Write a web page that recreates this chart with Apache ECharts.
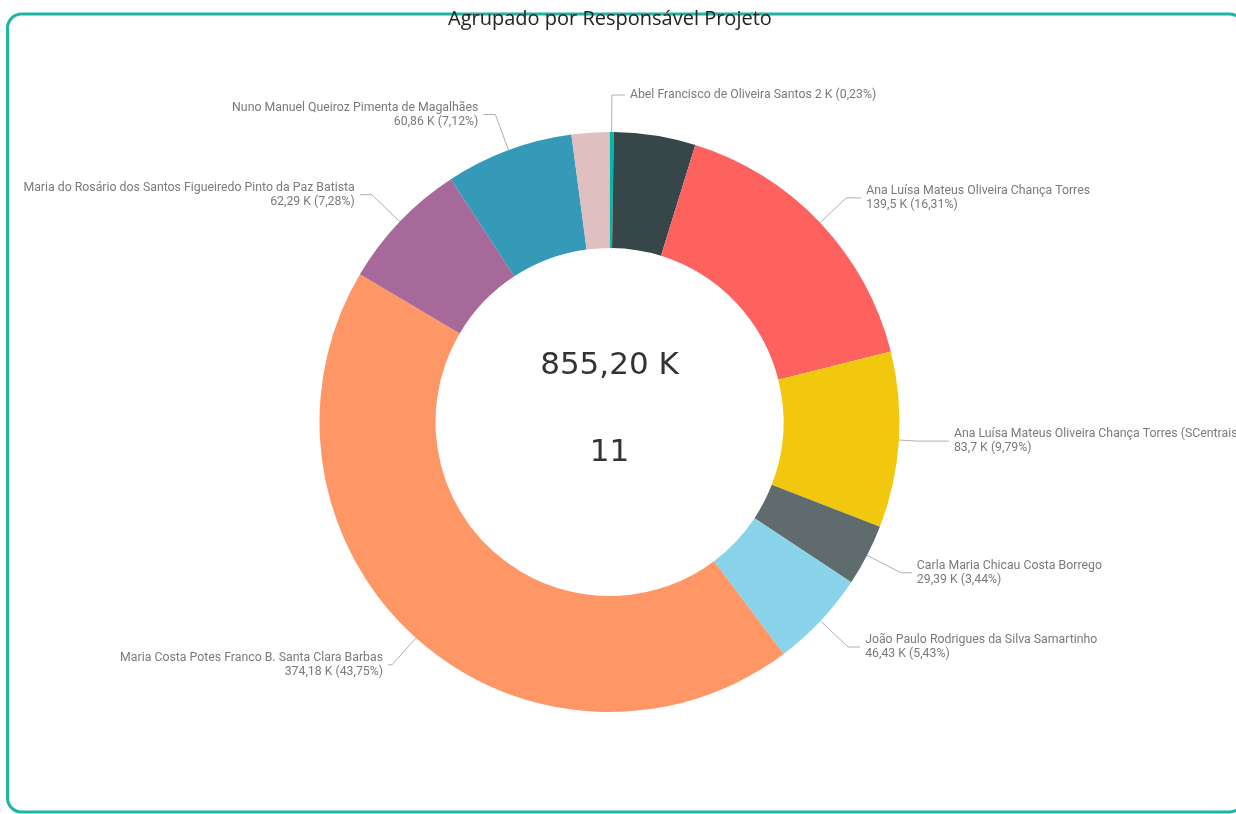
<!DOCTYPE html>
<html>
<head>
<meta charset="utf-8">
<script src="https://cdn.jsdelivr.net/npm/echarts@6/dist/echarts.min.js"></script>
<style>
html,body{margin:0;padding:0;background:#fff;}
#chart{width:1236px;height:814px;}
</style>
</head>
<body>
<div id="chart"></div>
<script>
// ---- data ----
const chartTitle = 'Agrupado por Responsável Projeto';
const categories = [
  'Abel Francisco de Oliveira Santos',
  '',
  'Ana Luísa Mateus Oliveira Chança Torres',
  'Ana Luísa Mateus Oliveira Chança Torres (SCentrais)',
  'Carla Maria Chicau Costa Borrego',
  'João Paulo Rodrigues da Silva Samartinho',
  'Maria Costa Potes Franco B. Santa Clara Barbas',
  'Maria do Rosário dos Santos Figueiredo Pinto da Paz Batista',
  'Nuno Manuel Queiroz Pimenta de Magalhães',
  ''
];
const valuesK = [2, 38.9, 139.5, 83.7, 29.39, 46.43, 374.18, 62.29, 60.86, 17.95];
const projectCount = 11;

// ---- styles ----
const palette = ['#01B8AA','#374649','#FD625E','#F2C80F','#5F6B6D','#8AD4EB','#FE9666','#A66999','#3599B8','#DFBFBF'];
const labelShown = [true,false,true,true,true,true,true,true,true,false];
const labelOneLine = [true,false,false,false,false,false,false,false,false,false];
const lineLen = [37,0,36,18,38,38,36,39,38,0];
const lineLen2 = [13,0,15,32,11,12,4,12,12,0];

const total = valuesK.reduce((a,b)=>a+b,0);
function fmtVal(v){ return String(Math.round(v*100)/100).replace('.', ','); }
function fmtPct(v){ return (v/total*100).toFixed(2).replace('.', ','); }

const seriesData = valuesK.map((v,i)=>({
  name: categories[i],
  value: v,
  itemStyle: {color: palette[i]},
  label: {show: labelShown[i]},
  labelLine: {show: labelShown[i], length: lineLen[i], length2: lineLen2[i]}
}));

const chart = echarts.init(document.getElementById('chart'), null, {renderer:'canvas'});
chart.setOption({
  animation: false,
  backgroundColor: '#ffffff',
  title: {
    text: chartTitle,
    left: 443,
    top: 4,
    textStyle: {fontFamily: 'Open Sans', fontSize: 20, fontWeight: 'normal', color: '#252423'}
  },
  graphic: [
    {
      type: 'rect', z: 0, silent: true,
      shape: {x: 7.5, y: 14, width: 1236, height: 798, r: 14},
      style: {fill: 'none', stroke: '#1FB5A6', lineWidth: 3}
    },
    {
      type: 'text', z: 10, x: 609.5, y: 366,
      style: {text: total.toFixed(2).replace('.', ',') + ' K', fontFamily: 'DejaVu Sans', fontSize: 31,
        fill: '#333333', align: 'center', verticalAlign: 'middle'}
    },
    {
      type: 'text', z: 10, x: 609.5, y: 453,
      style: {text: String(projectCount), fontFamily: 'DejaVu Sans', fontSize: 31,
        fill: '#333333', align: 'center', verticalAlign: 'middle'}
    }
  ],
  series: [{
    type: 'pie',
    left: 0, top: 0, width: 1800, height: 814,
    center: [609.5, 422],
    radius: [174, 290],
    startAngle: 90,
    clockwise: true,
    avoidLabelOverlap: false,
    label: {
      show: true,
      position: 'outside',
      fontFamily: 'Roboto',
      fontSize: 12.3,
      lineHeight: 14,
      color: '#7a7a7a',
      formatter: function(p){
        const i = p.dataIndex;
        const val = fmtVal(p.value) + ' K (' + fmtPct(p.value) + '%)';
        return labelOneLine[i] ? p.name + ' ' + val : p.name + '\n' + val;
      }
    },
    labelLine: {lineStyle: {color: '#b0b0b0', width: 1}, smooth: false},
    emphasis: {disabled: true},
    data: seriesData
  }]
});
</script>
</body>
</html>
